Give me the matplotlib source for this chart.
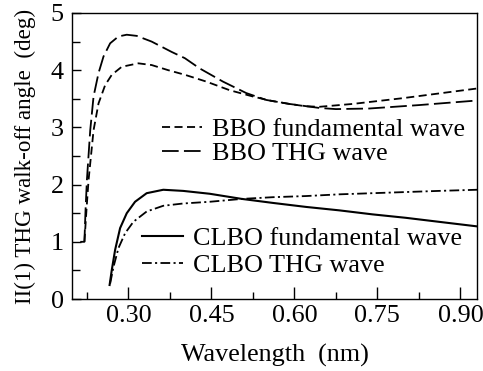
import matplotlib

matplotlib.use("Agg")
import matplotlib.pyplot as plt
from matplotlib.ticker import MultipleLocator

plt.rcParams["font.family"] = ["Liberation Serif", "DejaVu Serif"]
plt.rcParams["lines.scale_dashes"] = False

# BBO, fundamental wave (short dash)
bbo_fund_x = [0.2205, 0.2245, 0.228, 0.237, 0.246, 0.258, 0.270, 0.288, 0.318, 0.342,
              0.372, 0.402, 0.441, 0.483, 0.525, 0.555, 0.591, 0.620, 0.645, 0.705,
              0.795, 0.930]
bbo_fund_y = [1.00, 1.60, 2.08, 2.95, 3.42, 3.74, 3.92, 4.06, 4.12, 4.09,
              4.00, 3.92, 3.80, 3.65, 3.54, 3.47, 3.41, 3.37, 3.36, 3.41,
              3.51, 3.68]

# BBO, THG wave (long dash)
bbo_thg_x = [0.213, 0.2205, 0.2225, 0.225, 0.231, 0.237, 0.246, 0.255, 0.267, 0.282,
             0.297, 0.315, 0.342, 0.378, 0.402, 0.429, 0.471, 0.513, 0.549, 0.591,
             0.645, 0.675, 0.735, 0.825, 0.930]
bbo_thg_y = [1.00, 1.00, 1.55, 2.08, 2.95, 3.54, 3.95, 4.24, 4.47, 4.59,
             4.62, 4.60, 4.50, 4.32, 4.21, 4.03, 3.80, 3.60, 3.48, 3.41,
             3.34, 3.32, 3.33, 3.39, 3.47]

# CLBO, fundamental wave (solid)
clbo_fund_x = [0.266, 0.270, 0.276, 0.285, 0.297, 0.312, 0.333, 0.363, 0.399, 0.447,
               0.505, 0.561, 0.621, 0.681, 0.741, 0.801, 0.861, 0.930]
clbo_fund_y = [0.245, 0.51, 0.86, 1.24, 1.50, 1.70, 1.85, 1.91, 1.89, 1.84,
               1.75, 1.68, 1.61, 1.55, 1.48, 1.42, 1.35, 1.27]

# CLBO, THG wave (dash-dot)
clbo_thg_x = [0.267, 0.273, 0.282, 0.294, 0.309, 0.333, 0.363, 0.399, 0.447, 0.505,
              0.561, 0.621, 0.681, 0.741, 0.801, 0.861, 0.930]
clbo_thg_y = [0.27, 0.56, 0.89, 1.15, 1.35, 1.53, 1.63, 1.67, 1.70, 1.75,
              1.78, 1.80, 1.83, 1.85, 1.87, 1.89, 1.91]

x_ticks = [0.30, 0.45, 0.60, 0.75, 0.90]
x_tick_labels = ["0.30", "0.45", "0.60", "0.75", "0.90"]
y_ticks = [0, 1, 2, 3, 4, 5]

FS = 18.8
LW = 1.3

fig = plt.figure(figsize=(4.83, 3.71), dpi=100, facecolor="white")
ax = fig.add_axes([0.149, 0.194, 0.8386, 0.771])

bbo_f, = ax.plot(bbo_fund_x, bbo_fund_y, color="black", lw=LW, dashes=(5.8, 3.2))
bbo_t, = ax.plot(bbo_thg_x, bbo_thg_y, color="black", lw=LW, dashes=(12, 3.8))
clbo_f, = ax.plot(clbo_fund_x, clbo_fund_y, color="black", lw=LW + 0.2)
clbo_t, = ax.plot(clbo_thg_x, clbo_thg_y, color="black", lw=LW,
                  dashes=(7, 2.4, 1.5, 2.4))

ax.set_xlim(0.198, 0.930)
ax.set_ylim(0, 5)

# Ticks
ax.set_xticks(x_ticks)
ax.set_xticklabels(x_tick_labels)
ax.xaxis.set_minor_locator(MultipleLocator(0.075))
ax.set_yticks(y_ticks)
ax.yaxis.set_minor_locator(MultipleLocator(0.5))
ax.tick_params(axis="both", which="both", direction="in", labelsize=FS,
               width=1.0, top=False, right=False)
ax.tick_params(axis="x", which="major", length=8.5, pad=4)
ax.tick_params(axis="x", which="minor", length=5)
ax.tick_params(axis="y", which="major", length=6.5, pad=6)
ax.tick_params(axis="y", which="minor", length=6)
for sp in ax.spines.values():
    sp.set_linewidth(1.0)

# Labels
ax.set_xlabel("Wavelength  (nm)", fontsize=FS)
ax.xaxis.set_label_coords(0.5, -0.158)
ax.set_ylabel("II(1) THG walk-off angle  (deg)", fontsize=16.6)
ax.yaxis.set_label_coords(-0.088, 0.5)

# Legends
leg1 = ax.legend([bbo_f, bbo_t], ["BBO fundamental wave", "BBO THG wave"],
                 loc="center left", bbox_to_anchor=(0.2215, 0.551),
                 frameon=False, fontsize=FS, borderpad=0, borderaxespad=0,
                 handlelength=1.54, handletextpad=0.38, labelspacing=0.02)
ax.add_artist(leg1)
ax.legend([clbo_f, clbo_t], ["CLBO fundamental wave", "CLBO THG wave"],
          loc="center left", bbox_to_anchor=(0.172, 0.165),
          frameon=False, fontsize=FS, borderpad=0, borderaxespad=0,
          handlelength=1.6, handletextpad=0.38, labelspacing=0.14)

fig.savefig("out.png", dpi=100, facecolor="white")
